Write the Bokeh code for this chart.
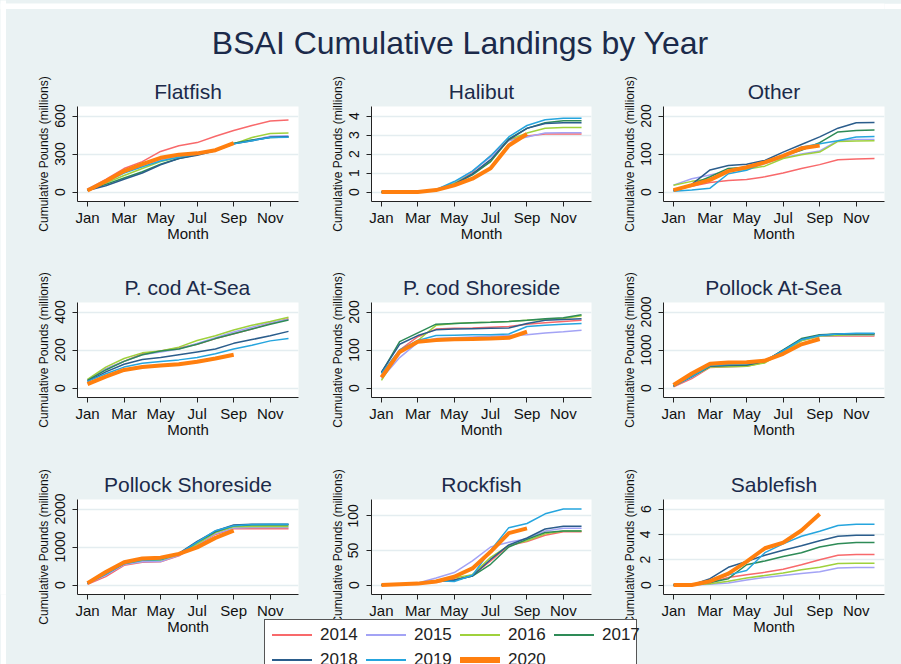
import math
from bokeh.plotting import figure
from bokeh.models import Range1d, FixedTicker, GridBox, Div
from bokeh.embed import file_html
from bokeh.resources import INLINE

# ---------------- data (millions of pounds, cumulative by month) ----------------
years = ["2014", "2015", "2016", "2017", "2018", "2019", "2020"]
colors = ["#f8696b", "#a3a3f5", "#9fd13c", "#2e8b57", "#2b5d8c", "#25a5de", "#ff7f0e"]
months = [1, 2, 3, 4, 5, 6, 7, 8, 9, 10, 11, 12]
month_ticks = [1, 3, 5, 7, 9, 11]
month_labels = ["Jan", "Mar", "May", "Jul", "Sep", "Nov"]

flatfish = {
    "2014": [20, 100, 185, 240, 320, 365, 390, 440, 485, 525, 560, 568],
    "2015": [25, 90, 160, 210, 255, 285, 295, 330, 380, 410, 440, 445],
    "2016": [15, 70, 130, 185, 240, 275, 300, 330, 380, 430, 462, 465],
    "2017": [15, 60, 110, 160, 220, 265, 295, 330, 385, 410, 430, 435],
    "2018": [12, 50, 100, 150, 215, 265, 290, 325, 380, 405, 432, 437],
    "2019": [18, 80, 150, 200, 245, 275, 300, 330, 380, 405, 430, 432],
    "2020": [12, 85, 165, 220, 270, 295, 305, 330, 385],
}
halibut = {
    "2014": [0, 0, 0, 0.10, 0.45, 1.05, 1.90, 2.75, 2.95, 3.05, 3.05, 3.05],
    "2015": [0, 0, 0, 0.12, 0.50, 1.10, 1.85, 2.70, 2.90, 3.10, 3.12, 3.12],
    "2016": [0, 0, 0, 0.10, 0.45, 0.95, 1.60, 2.75, 3.10, 3.35, 3.40, 3.40],
    "2017": [0, 0, 0, 0.10, 0.40, 0.90, 1.60, 2.80, 3.35, 3.65, 3.75, 3.75],
    "2018": [0, 0, 0, 0.10, 0.40, 0.95, 1.70, 2.75, 3.35, 3.60, 3.65, 3.65],
    "2019": [0, 0, 0, 0.12, 0.55, 1.10, 1.90, 2.90, 3.50, 3.80, 3.88, 3.88],
    "2020": [0, 0, 0, 0.10, 0.35, 0.70, 1.25, 2.45, 3.05],
}
other = {
    "2014": [5, 15, 25, 30, 33, 40, 50, 62, 72, 85, 87, 88],
    "2015": [18, 35, 45, 55, 60, 75, 90, 100, 108, 135, 138, 138],
    "2016": [18, 28, 35, 55, 60, 68, 88, 98, 105, 133, 134, 135],
    "2017": [5, 20, 40, 62, 65, 80, 95, 110, 130, 158, 162, 163],
    "2018": [3, 20, 58, 70, 73, 83, 105, 125, 145, 168, 182, 183],
    "2019": [2, 5, 10, 48, 57, 78, 95, 118, 127, 135, 145, 146],
    "2020": [5, 18, 32, 55, 65, 78, 95, 115, 122],
}
pcod_atsea = {
    "2014": [40, 100, 140, 180, 195, 210, 230, 260, 285, 310, 340, 365],
    "2015": [40, 100, 140, 175, 190, 205, 235, 265, 295, 320, 345, 360],
    "2016": [45, 110, 155, 185, 195, 215, 250, 275, 305, 330, 350, 372],
    "2017": [40, 95, 140, 175, 195, 205, 230, 260, 285, 310, 335, 358],
    "2018": [35, 85, 125, 150, 160, 175, 190, 205, 235, 255, 275, 298],
    "2019": [35, 75, 110, 130, 140, 148, 160, 180, 205, 225, 248, 260],
    "2020": [20, 60, 95, 110, 118, 125, 138, 155, 175],
}
pcod_shoreside = {
    "2014": [30, 100, 135, 155, 157, 158, 160, 162, 168, 172, 175, 178],
    "2015": [25, 80, 120, 130, 132, 134, 136, 138, 140, 145, 148, 152],
    "2016": [20, 95, 125, 165, 170, 172, 173, 175, 178, 180, 183, 190],
    "2017": [40, 122, 145, 168, 170, 172, 173, 175, 178, 182, 185, 193],
    "2018": [42, 115, 138, 153, 155, 156, 157, 158, 170, 178, 180, 182],
    "2019": [38, 100, 125, 138, 139, 140, 140, 142, 162, 165, 168, 170],
    "2020": [28, 95, 122, 126, 128, 129, 130, 132, 148],
}
pollock_atsea = {
    "2014": [30, 250, 540, 560, 570, 680, 960, 1250, 1360, 1370, 1370, 1370],
    "2015": [50, 280, 560, 580, 590, 690, 970, 1260, 1370, 1380, 1385, 1385],
    "2016": [60, 300, 550, 560, 570, 660, 950, 1240, 1370, 1390, 1400, 1400],
    "2017": [50, 300, 570, 590, 600, 700, 1000, 1300, 1400, 1420, 1430, 1430],
    "2018": [60, 310, 580, 600, 610, 710, 990, 1280, 1390, 1420, 1430, 1430],
    "2019": [50, 300, 590, 620, 630, 720, 980, 1270, 1380, 1420, 1440, 1440],
    "2020": [80, 380, 640, 670, 680, 720, 900, 1150, 1290],
}
pollock_shoreside = {
    "2014": [20, 220, 520, 600, 610, 770, 1050, 1330, 1480, 1480, 1480, 1480],
    "2015": [40, 260, 540, 610, 620, 780, 1060, 1350, 1500, 1510, 1510, 1510],
    "2016": [50, 290, 560, 650, 660, 800, 1080, 1380, 1530, 1540, 1540, 1540],
    "2017": [50, 300, 570, 660, 670, 820, 1120, 1400, 1560, 1580, 1580, 1580],
    "2018": [50, 300, 570, 680, 690, 830, 1150, 1420, 1580, 1600, 1600, 1600],
    "2019": [40, 280, 560, 650, 670, 820, 1130, 1430, 1560, 1590, 1600, 1600],
    "2020": [50, 340, 600, 700, 720, 820, 990, 1240, 1430],
}
rockfish = {
    "2014": [0, 1, 2, 4, 8, 14, 35, 57, 63, 72, 77, 77],
    "2015": [0, 1, 3, 10, 18, 35, 55, 62, 67, 78, 82, 82],
    "2016": [0, 1, 3, 6, 10, 15, 40, 57, 64, 74, 78, 78],
    "2017": [0, 1, 2, 5, 7, 13, 30, 55, 66, 76, 78, 78],
    "2018": [0, 1, 2, 5, 7, 13, 37, 58, 68, 81, 85, 85],
    "2019": [0, 1, 2, 6, 5, 14, 50, 83, 89, 103, 110, 110],
    "2020": [0, 1, 2, 5, 12, 24, 48, 75, 82],
}
sablefish = {
    "2014": [0, 0, 0.20, 0.60, 0.80, 1.00, 1.25, 1.60, 2.00, 2.35, 2.40, 2.40],
    "2015": [0, 0, 0.05, 0.15, 0.40, 0.60, 0.75, 0.90, 1.05, 1.35, 1.38, 1.38],
    "2016": [0, 0, 0.10, 0.30, 0.55, 0.75, 0.95, 1.20, 1.40, 1.70, 1.72, 1.72],
    "2017": [0, 0, 0.20, 0.50, 1.60, 1.90, 2.25, 2.55, 3.00, 3.25, 3.35, 3.35],
    "2018": [0, 0, 0.50, 1.40, 1.85, 2.35, 2.75, 3.10, 3.50, 3.85, 3.92, 3.92],
    "2019": [0, 0, 0.30, 0.80, 1.15, 2.55, 3.25, 3.85, 4.25, 4.70, 4.80, 4.80],
    "2020": [0, 0, 0.30, 0.90, 1.85, 2.90, 3.35, 4.30, 5.60],
}

panels = [
    ("Flatfish", flatfish, [0, 300, 600]),
    ("Halibut", halibut, [0, 1, 2, 3, 4]),
    ("Other", other, [0, 100, 200]),
    ("P. cod At-Sea", pcod_atsea, [0, 200, 400]),
    ("P. cod Shoreside", pcod_shoreside, [0, 100, 200]),
    ("Pollock At-Sea", pollock_atsea, [0, 1000, 2000]),
    ("Pollock Shoreside", pollock_shoreside, [0, 1000, 2000]),
    ("Rockfish", rockfish, [0, 50, 100]),
    ("Sablefish", sablefish, [0, 2, 4, 6]),
]

# ---------------- styling / layout ----------------
BG = "#eaf2f3"
NAVY = "#1b2a4a"
FONT = "Liberation Sans"

col_w = ["6px", "258px", "56px", "292px", "25px", "236px", "28px"]
row_h = ["9px", "57px", "196px", "197px", "160px", "45px"]

# (grid col start, col span, width, border left, border right)
col_spec = [(1, 2, 314, 71, 22), (3, 1, 292, 51, 21), (4, 3, 289, 51, 17)]
# (grid row start, row span, height, border top, border bottom)
row_spec = [(2, 1, 196, 40, 61), (3, 1, 197, 40, 62), (4, 2, 205, 40, 70)]


def make_panel(title, data, yticks, w, h, bl, br, bt, bb):
    top = max(yticks[-1], max(max(v) for v in data.values()))
    ypad = top * 9.5 / 76.0
    xpad = 11 * 10.0 / 201.0
    p = figure(width=w, height=h, output_backend="svg", toolbar_location=None,
               x_range=Range1d(1 - xpad, 12 + xpad), y_range=Range1d(-ypad, top + ypad),
               min_border_left=bl, min_border_right=br, min_border_top=bt, min_border_bottom=bb)
    p.background_fill_color = "white"
    p.border_fill_color = BG
    p.outline_line_color = None
    p.title.text = title
    p.title.align = "center"
    p.title.text_font = FONT
    p.title.text_font_size = "21px"
    p.title.text_font_style = "normal"
    p.title.text_color = NAVY
    p.title.standoff = 7

    for yr, c in zip(years, colors):
        vals = data[yr]
        lw = 4 if yr == "2020" else 1.5
        p.line(months[:len(vals)], vals, line_color=c, line_width=lw)

    xa = p.xaxis[0]
    xa.ticker = FixedTicker(ticks=month_ticks)
    xa.major_label_overrides = {t: l for t, l in zip(month_ticks, month_labels)}
    xa.axis_label = "Month"
    xa.axis_label_standoff = -4
    xa.major_label_standoff = 2

    ya = p.yaxis[0]
    ya.ticker = FixedTicker(ticks=yticks)
    ya.major_label_orientation = "vertical"
    ya.axis_label = "Cumulative Pounds (millions)"
    ya.axis_label_standoff = 1
    ya.major_label_standoff = 8

    for ax in (xa, ya):
        ax.axis_line_color = "#222222"
        ax.major_tick_line_color = "#222222"
        ax.major_tick_out = 5
        ax.major_tick_in = 0
        ax.minor_tick_out = 0
        ax.minor_tick_in = 0
        ax.major_label_text_font = FONT
        ax.major_label_text_color = "#111111"
        ax.axis_label_text_font = FONT
        ax.axis_label_text_font_style = "normal"
        ax.axis_label_text_color = "#111111"
    xa.major_label_text_font_size = "15px"
    ya.major_label_text_font_size = "14px"
    xa.axis_label_text_font_size = "15px"
    ya.axis_label_text_font_size = "12px"

    p.xgrid.visible = False
    p.ygrid.grid_line_color = "#e4edf0"
    p.ygrid.grid_line_width = 1.5
    return p


def blank(w, h, color):
    b = figure(width=w, height=h, output_backend="svg", toolbar_location=None,
               title_location=None,
               x_range=Range1d(0, 1), y_range=Range1d(0, 1),
               x_axis_location=None, y_axis_location=None, min_border=0)
    b.background_fill_color = color
    b.border_fill_color = color
    b.outline_line_color = None
    b.grid.visible = False
    return b


children = []
children.append((blank(901, 9, "white"), 0, 0, 1, 7))
children.append((blank(6, 664, "white"), 0, 0, 6, 1))

# main title
title_html = (
    f'<div style="box-sizing:border-box;width:895px;height:57px;padding:16px 0 0 13px;'
    f'text-align:center;font-family:\'{FONT}\';font-size:32px;line-height:36px;'
    f'color:{NAVY};white-space:nowrap">BSAI Cumulative Landings by Year</div>'
)
tp = Div(text=title_html, width=895, height=57,
         styles={"margin": "0", "padding": "0", "overflow": "visible"})
children.append((tp, 1, 1, 1, 6))

for i, (title, data, yt) in enumerate(panels):
    r, c = divmod(i, 3)
    gr, rs, h, bt, bb = row_spec[r]
    gc, cs, w, bl, br = col_spec[c]
    p = make_panel(title, data, yt, w, h, bl, br, bt, bb)
    children.append((p, gr, gc, rs, cs))

# legend box (overlapping the bottom row and running off the page, as in the original)
def legend_row(idx):
    parts = []
    for k in idx:
        lw = 6 if years[k] == "2020" else 2
        parts.append(
            f'<span style="display:inline-block;width:40px;height:{lw}px;background:{colors[k]};'
            f'margin-right:8px;flex:none"></span>'
            f'<span style="display:inline-block;width:38px;margin-right:8px;flex:none">{years[k]}</span>')
    return ('<div style="display:flex;align-items:center;height:20px;margin-bottom:5px;'
            'white-space:nowrap">' + "".join(parts) + '</div>')

legend_html = (
    f'<div style="box-sizing:border-box;width:373px;height:80px;background:#ffffff;'
    f'border:1px solid #555555;padding:5px 0 0 7px;font-family:\'{FONT}\';font-size:17px;'
    f'line-height:20px;color:#222222;overflow:visible">'
    + legend_row([0, 1, 2, 3]) + legend_row([4, 5, 6]) + '</div>'
)
lg = Div(text=legend_html, width=373, height=45,
         styles={"overflow": "visible", "margin": "0", "padding": "0"})
children.append((lg, 5, 2, 1, 3))

grid = GridBox(children=children, rows=row_h, cols=col_w, spacing=0)
grid.styles = {"background-color": BG, "overflow": "hidden"}

open("out.html", "w").write(file_html(grid, INLINE))
